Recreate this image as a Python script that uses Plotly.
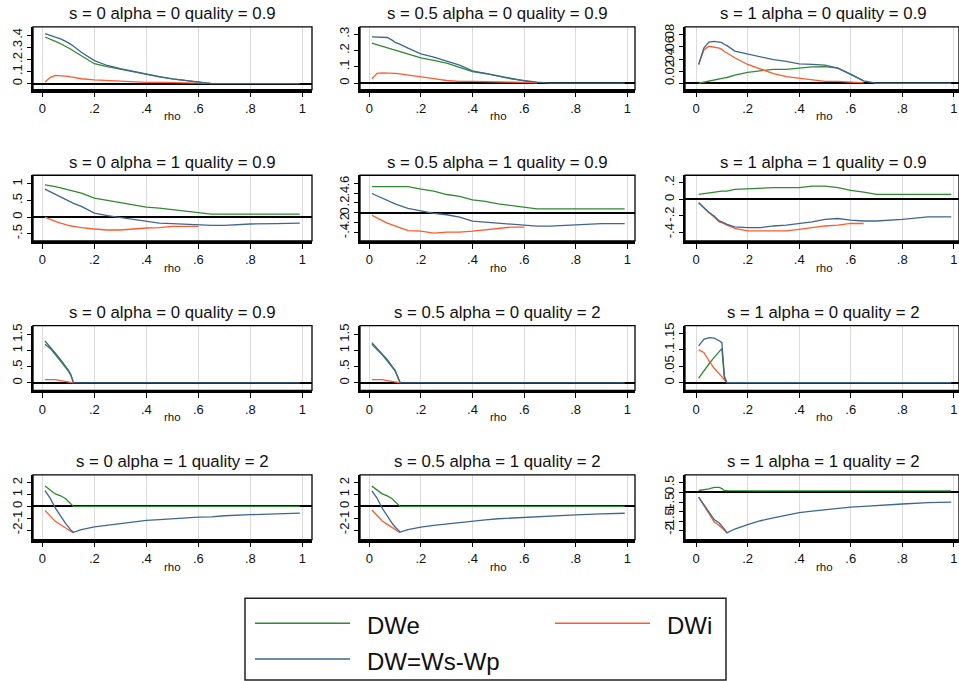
import plotly.graph_objects as go

# ---------------- data ----------------
RHO = [0.01, 0.03, 0.05, 0.07, 0.09, 0.10, 0.11, 0.12, 0.15, 0.2, 0.25, 0.3,
       0.35, 0.4, 0.45, 0.5, 0.55, 0.6, 0.65, 0.7, 0.8, 0.9, 0.99]

TITLES = [
    "s = 0 alpha = 0 quality = 0.9", "s = 0.5 alpha = 0 quality = 0.9", "s = 1 alpha = 0 quality = 0.9",
    "s = 0 alpha = 1 quality = 0.9", "s = 0.5 alpha = 1 quality = 0.9", "s = 1 alpha = 1 quality = 0.9",
    "s = 0 alpha = 0 quality = 0.9", "s = 0.5 alpha = 0 quality = 2", "s = 1 alpha = 0 quality = 2",
    "s = 0 alpha = 1 quality = 2", "s = 0.5 alpha = 1 quality = 2", "s = 1 alpha = 1 quality = 2",
]

N = None
# Panel 1
P1_DWE = [0.386, 0.37, 0.35, 0.33, 0.31, 0.30, 0.285, 0.27, 0.23, 0.165, 0.14, 0.119, 0.097, 0.074, 0.055, 0.039, 0.025, 0.011, 0.0, N, N, N, N]
P1_DWI = [0.014, 0.05, 0.068, 0.066, 0.062, 0.06, 0.055, 0.05, 0.04, 0.03, 0.025, 0.014, 0.012, 0.01, 0.01, 0.008, 0.006, 0.005, 0.002, N, N, N, N]
P1_DW = [0.414, 0.40, 0.39, 0.37, 0.35, 0.34, 0.325, 0.31, 0.26, 0.19, 0.15, 0.124, 0.10, 0.077, 0.058, 0.039, 0.025, 0.014, 0.0, 0.0, 0.0, 0.0, 0.0]
# Panel 2
P2_DWE = [0.245, 0.235, 0.223, 0.215, 0.207, 0.203, 0.198, 0.194, 0.178, 0.155, 0.14, 0.122, 0.097, 0.07, 0.059, 0.043, 0.028, 0.014, 0.003, N, N, N, N]
P2_DWI = [0.026, 0.06, 0.063, 0.063, 0.061, 0.06, 0.058, 0.056, 0.047, 0.037, 0.028, 0.016, 0.01, 0.01, 0.01, 0.009, 0.006, 0.004, 0.001, N, N, N, N]
P2_DW = [0.284, 0.284, 0.284, 0.28, 0.262, 0.25, 0.244, 0.238, 0.215, 0.18, 0.16, 0.136, 0.11, 0.075, 0.057, 0.043, 0.026, 0.014, 0.006, 0.0, 0.0, 0.0, 0.0]
# Panel 3
P3_DWE = [0.0, 0.002, 0.004, 0.006, 0.007, 0.008, 0.009, 0.0095, 0.0135, 0.018, 0.0205, 0.023, 0.023, 0.025, 0.027, 0.0275, 0.025, 0.015, 0.004, N, N, N, N]
P3_DWI = [0.031, 0.055, 0.061, 0.06, 0.058, 0.056, 0.052, 0.05, 0.042, 0.031, 0.023, 0.016, 0.011, 0.008, 0.006, 0.003, 0.003, 0.002, 0.0005, N, N, N, N]
P3_DW = [0.031, 0.058, 0.068, 0.069, 0.068, 0.067, 0.064, 0.062, 0.053, 0.048, 0.043, 0.039, 0.036, 0.032, 0.031, 0.030, 0.025, 0.015, 0.004, 0.0, 0.0, 0.0, 0.0]
# Panel 4
P4_DWE = [0.97, 0.95, 0.92, 0.88, 0.84, 0.82, 0.80, 0.78, 0.72, 0.57, 0.5, 0.42, 0.37, 0.30, 0.27, 0.22, 0.17, 0.14, 0.09, 0.09, 0.09, 0.09, 0.09]
P4_DWI = [0.0, -0.07, -0.13, -0.18, -0.23, -0.25, -0.27, -0.28, -0.32, -0.36, -0.39, -0.39, -0.35, -0.33, -0.32, -0.28, -0.28, -0.28, N, N, N, N, N]
P4_DW = [0.84, 0.76, 0.69, 0.60, 0.52, 0.47, 0.44, 0.41, 0.32, 0.12, 0.04, -0.01, -0.06, -0.13, -0.18, -0.2, -0.22, -0.25, -0.25, -0.25, -0.21, -0.2, -0.18]
# Panel 5
P5_DWE = [0.53, 0.53, 0.53, 0.53, 0.53, 0.53, 0.53, 0.53, 0.53, 0.48, 0.44, 0.37, 0.33, 0.26, 0.23, 0.18, 0.15, 0.11, 0.08, 0.08, 0.08, 0.08, 0.08]
P5_DWI = [-0.05, -0.11, -0.16, -0.21, -0.25, -0.27, -0.29, -0.31, -0.36, -0.37, -0.41, -0.39, -0.39, -0.37, -0.34, -0.32, -0.29, -0.29, N, N, N, N, N]
P5_DW = [0.39, 0.34, 0.29, 0.24, 0.2, 0.18, 0.16, 0.14, 0.09, 0.04, -0.01, -0.04, -0.09, -0.17, -0.19, -0.22, -0.24, -0.25, -0.27, -0.27, -0.24, -0.22, -0.22]
# Panel 6
P6_DWE = [0.06, 0.07, 0.08, 0.09, 0.1, 0.1, 0.1, 0.1, 0.12, 0.128, 0.128, 0.14, 0.14, 0.14, 0.16, 0.16, 0.14, 0.108, 0.088, 0.06, 0.06, 0.06, 0.06]
P6_DWI = [-0.04, -0.1, -0.16, -0.21, -0.27, -0.28, -0.3, -0.31, -0.35, -0.38, -0.38, -0.38, -0.38, -0.36, -0.34, -0.32, -0.31, -0.29, -0.29, N, N, N, N]
P6_DW = [-0.04, -0.1, -0.16, -0.2, -0.26, -0.27, -0.29, -0.3, -0.33, -0.34, -0.34, -0.32, -0.31, -0.29, -0.27, -0.24, -0.23, -0.25, -0.26, -0.26, -0.24, -0.21, -0.21]
# Panel 7
P7_DWE = [1.2, 1.07, 0.88, 0.68, 0.47, 0.37, 0.22, 0.0, N, N, N, N, N, N, N, N, N, N, N, N, N, N, N]
P7_DWI = [0.1, 0.1, 0.1, 0.07, 0.04, 0.03, 0.02, 0.0, N, N, N, N, N, N, N, N, N, N, N, N, N, N, N]
P7_DW = [1.3, 1.12, 0.92, 0.72, 0.5, 0.4, 0.25, 0.0, 0.0, 0.0, 0.0, 0.0, 0.0, 0.0, 0.0, 0.0, 0.0, 0.0, 0.0, 0.0, 0.0, 0.0, 0.0]
# Panel 8
P8_DWE = [1.2, 1.05, 0.87, 0.68, 0.47, 0.37, 0.18, 0.0, N, N, N, N, N, N, N, N, N, N, N, N, N, N, N]
P8_DWI = [0.1, 0.1, 0.1, 0.07, 0.05, 0.03, 0.02, 0.0, N, N, N, N, N, N, N, N, N, N, N, N, N, N, N]
P8_DW = [1.25, 1.08, 0.9, 0.72, 0.5, 0.4, 0.2, 0.0, 0.0, 0.0, 0.0, 0.0, 0.0, 0.0, 0.0, 0.0, 0.0, 0.0, 0.0, 0.0, 0.0, 0.0, 0.0]
# Panel 9
P9_DWE = [0.014, 0.037, 0.057, 0.077, 0.097, 0.104, 0.01, 0.0, N, N, N, N, N, N, N, N, N, N, N, N, N, N, N]
P9_DWI = [0.1, 0.092, 0.067, 0.044, 0.027, 0.017, 0.007, 0.0, N, N, N, N, N, N, N, N, N, N, N, N, N, N, N]
P9_DW = [0.112, 0.132, 0.137, 0.136, 0.128, 0.122, 0.02, 0.0, 0.0, 0.0, 0.0, 0.0, 0.0, 0.0, 0.0, 0.0, 0.0, 0.0, 0.0, 0.0, 0.0, 0.0, 0.0]
# Panel 10
P10_DWE = [1.72, 1.39, 1.05, 0.89, 0.64, 0.42, 0.19, 0.0, 0.0, 0.0, 0.0, 0.0, 0.0, 0.0, 0.0, 0.0, 0.0, 0.0, 0.0, 0.0, 0.0, 0.0, 0.0]
P10_DWI = [-0.33, -0.83, -1.25, -1.53, -1.8, -1.94, -2.08, -2.22, N, N, N, N, N, N, N, N, N, N, N, N, N, N, N]
P10_DW = [1.33, 0.69, -0.14, -0.83, -1.44, -1.72, -2.0, -2.17, -1.94, -1.72, -1.58, -1.44, -1.33, -1.17, -1.11, -1.03, -0.97, -0.89, -0.87, -0.78, -0.69, -0.61, -0.56]
# Panel 11
P11_DWE = [1.7, 1.4, 1.05, 0.88, 0.62, 0.4, 0.18, 0.0, 0.0, 0.0, 0.0, 0.0, 0.0, 0.0, 0.0, 0.0, 0.0, 0.0, 0.0, 0.0, 0.0, 0.0, 0.0]
P11_DWI = [-0.3, -0.8, -1.22, -1.5, -1.78, -1.92, -2.06, -2.2, N, N, N, N, N, N, N, N, N, N, N, N, N, N, N]
P11_DW = [1.3, 0.7, -0.15, -0.85, -1.45, -1.72, -1.98, -2.15, -1.95, -1.73, -1.58, -1.45, -1.33, -1.2, -1.12, -1.03, -0.97, -0.9, -0.86, -0.8, -0.7, -0.62, -0.57]
# Panel 12
P12_DWE = [0.1, 0.14, 0.19, 0.26, 0.26, 0.2, 0.1, 0.09, 0.08, 0.08, 0.08, 0.08, 0.08, 0.08, 0.08, 0.08, 0.08, 0.08, 0.08, 0.08, 0.08, 0.08, 0.08]
P12_DWI = [-0.24, -0.67, -1.16, -1.53, -1.72, -1.84, -1.97, -2.1, N, N, N, N, N, N, N, N, N, N, N, N, N, N, N]
P12_DW = [-0.24, -0.64, -1.07, -1.41, -1.59, -1.72, -1.9, -2.1, -1.9, -1.67, -1.47, -1.32, -1.17, -1.05, -0.97, -0.89, -0.82, -0.76, -0.72, -0.69, -0.6, -0.53, -0.5]

DWE = [P1_DWE, P2_DWE, P3_DWE, P4_DWE, P5_DWE, P6_DWE, P7_DWE, P8_DWE, P9_DWE, P10_DWE, P11_DWE, P12_DWE]
DWI = [P1_DWI, P2_DWI, P3_DWI, P4_DWI, P5_DWI, P6_DWI, P7_DWI, P8_DWI, P9_DWI, P10_DWI, P11_DWI, P12_DWI]
DW = [P1_DW, P2_DW, P3_DW, P4_DW, P5_DW, P6_DW, P7_DW, P8_DW, P9_DW, P10_DW, P11_DW, P12_DW]

X_TICKS = [0, 0.2, 0.4, 0.6, 0.8, 1]
X_TICKTEXT = ["0", ".2", ".4", ".6", ".8", "1"]

Y_TICKS = [
    [0, 0.1, 0.2, 0.3, 0.4], [0, 0.1, 0.2, 0.3], [0, 0.02, 0.04, 0.06, 0.08],
    [-0.5, 0, 0.5, 1], [-0.4, -0.2, 0, 0.2, 0.4, 0.6], [-0.4, -0.2, 0, 0.2],
    [0, 0.5, 1, 1.5], [0, 0.5, 1, 1.5], [0, 0.05, 0.1, 0.15],
    [-2, -1, 0, 1, 2], [-2, -1, 0, 1, 2], [-2, -1.5, -1, -0.5, 0, 0.5],
]
Y_TICKTEXT = [
    ["0", ".1", ".2", ".3", ".4"], ["0", ".1", ".2", ".3"], ["0", ".02", ".04", ".06", ".08"],
    ["-.5", "0", ".5", "1"], ["-.4", "-.2", "0", ".2", ".4", ".6"], ["-.4", "-.2", "0", ".2"],
    ["0", ".5", "1", "1.5"], ["0", ".5", "1", "1.5"], ["0", ".05", ".1", ".15"],
    ["-2", "-1", "0", "1", "2"], ["-2", "-1", "0", "1", "2"], ["-2", "-1.5", "-1", "-.5", "0", ".5"],
]
Y_RANGES = [
    [-0.05, 0.47], [-0.04, 0.345], [-0.0105, 0.093],
    [-0.72, 1.26], [-0.57, 0.76], [-0.5, 0.29],
    [-0.23, 1.78], [-0.23, 1.78], [-0.023, 0.174],
    [-2.78, 2.64], [-2.78, 2.64], [-2.45, 0.91],
]

SERIES_NAMES = ["DWe", "DWi", "DW=Ws-Wp"]
COLORS = ["#2f8a2f", "#ff5a2a", "#3f6690"]

# ---------------- layout geometry ----------------
W, H = 959, 681
FONT = "Liberation Sans, Arial, sans-serif"
COL_PX = [(33, 312), (360, 635), (685, 959)]
ROW_PX = [(24, 87), (173, 239), (324, 389), (474, 539)]
X_RANGES = [[-0.036, 1.037], [-0.036, 1.03], [-0.043, 1.02]]
TITLE_CX = [172, 497, 823]

fig = go.Figure()
layout = dict(
    width=W, height=H, margin=dict(l=0, r=0, t=0, b=0),
    paper_bgcolor="white", plot_bgcolor="white",
    showlegend=False, font=dict(family=FONT, color="#111111"),
)
shapes = []
annotations = []

for k in range(12):
    r, c = divmod(k, 3)
    sfx = "" if k == 0 else str(k + 1)
    xa, ya = "x" + sfx, "y" + sfx
    series = [DWE[k], DWI[k], DW[k]]
    for name, ys, col in zip(SERIES_NAMES, series, COLORS):
        fig.add_trace(go.Scatter(x=RHO, y=ys, mode="lines", name=name,
                                 line=dict(color=col, width=1.3),
                                 xaxis=xa, yaxis=ya, showlegend=False))
    x0, x1 = COL_PX[c]
    y0, y1 = ROW_PX[r]
    layout["xaxis" + sfx] = dict(
        domain=[x0 / W, x1 / W], range=X_RANGES[c], anchor=ya,
        tickvals=X_TICKS, ticktext=X_TICKTEXT,
        showgrid=True, gridcolor="#dcdcdc", gridwidth=1, zeroline=False,
        showline=True, linecolor="black", linewidth=2.5,
        ticks="outside", ticklen=5, tickwidth=1.2, tickcolor="black",
        tickfont=dict(size=13, family=FONT, color="#111"),
    )
    layout["yaxis" + sfx] = dict(
        domain=[1 - y1 / H, 1 - y0 / H], range=Y_RANGES[k], anchor=xa,
        tickvals=Y_TICKS[k], ticktext=Y_TICKTEXT[k], tickangle=-90,
        showgrid=False, zeroline=True, zerolinecolor="black", zerolinewidth=1.5,
        showline=True, linecolor="black", linewidth=1.5,
        ticks="outside", ticklen=4, tickwidth=1.2, tickcolor="black",
        tickfont=dict(size=13, family=FONT, color="#111"),
    )
    shapes.append(dict(type="rect", xref=xa + " domain", yref=ya + " domain",
                       x0=0, x1=1, y0=0, y1=1, line=dict(color="black", width=1.3)))
    annotations.append(dict(text=TITLES[k], xref="paper", yref="paper",
                            x=TITLE_CX[c] / W, y=1 - (y0 - 13) / H,
                            xanchor="center", yanchor="middle",
                            showarrow=False, font=dict(size=16.8, family=FONT, color="#111")))
    # axis title "rho"
    zero_px = x0 + (0 - X_RANGES[c][0]) / (X_RANGES[c][1] - X_RANGES[c][0]) * (x1 - x0)
    one_px = x0 + (1 - X_RANGES[c][0]) / (X_RANGES[c][1] - X_RANGES[c][0]) * (x1 - x0)
    annotations.append(dict(text="rho", xref="paper", yref="paper",
                            x=(zero_px + one_px) / 2 / W, y=1 - (y1 + 27) / H,
                            xanchor="center", yanchor="middle", showarrow=False,
                            font=dict(size=11.5, family=FONT, color="#111")))

# ---------------- manual legend ----------------
shapes.append(dict(type="rect", xref="paper", yref="paper",
                   x0=245 / W, x1=726 / W, y0=1 - 680 / H, y1=1 - 598 / H,
                   line=dict(color="#222", width=1.5), fillcolor="white"))
LEG_POS = [(255, 350, 623), (555, 650, 623), (255, 350, 659)]
for name, col, (lx0, lx1, ly) in zip(SERIES_NAMES, COLORS, LEG_POS):
    shapes.append(dict(type="line", xref="paper", yref="paper",
                       x0=lx0 / W, x1=lx1 / W, y0=1 - ly / H, y1=1 - ly / H,
                       line=dict(color=col, width=1.5)))
    annotations.append(dict(text=name, xref="paper", yref="paper",
                            x=(lx1 + 15) / W, y=1 - (ly + 2) / H,
                            xanchor="left", yanchor="middle", showarrow=False,
                            font=dict(size=24, family=FONT, color="#111")))

layout["shapes"] = shapes
layout["annotations"] = annotations
fig.update_layout(**layout)
fig.write_html("out.html", config={"displayModeBar": False},
               post_script="document.body.style.margin='0px';document.body.style.overflow='hidden';")
